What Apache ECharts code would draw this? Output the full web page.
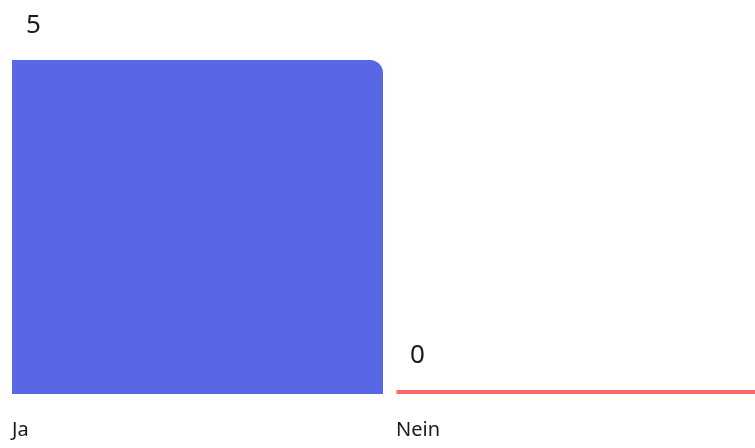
<!DOCTYPE html>
<html>
<head>
<meta charset="utf-8">
<script src="https://cdn.jsdelivr.net/npm/echarts@6/dist/echarts.min.js"></script>
<style>html,body{margin:0;padding:0;background:#fff;overflow:hidden;width:755px;height:448px}#c{width:780px;height:448px}</style>
</head>
<body>
<div id="c"></div>
<script>
const categories = ['Ja', 'Nein'];
const values = [5, 0];
const barColors = ['#5767E6', '#FF6B6B'];

const chart = echarts.init(document.getElementById('c'));
chart.setOption({
  animation: false,
  grid: { left: 5.5, width: 768, top: 60, bottom: 54 },
  xAxis: {
    type: 'category',
    data: categories,
    axisLine: { show: false },
    axisTick: { show: false },
    axisLabel: {
      margin: 26,
      align: 'center',
      formatter: v => '{a|' + v + '}',
      rich: { a: { width: 371, align: 'left', fontSize: 20, color: '#1a1a1a', fontFamily: 'Noto Sans' } }
    }
  },
  yAxis: { type: 'value', min: 0, max: 5, show: false, splitLine: { show: false } },
  series: [{
    type: 'bar',
    barWidth: 371,
    barMinHeight: 4,
    data: values.map((v, i) => ({
      value: v,
      itemStyle: { color: barColors[i], borderRadius: v > 0 ? [0, 13, 0, 0] : [2, 0, 0, 2] }
    })),
    label: {
      show: true,
      position: [14, -34],
      align: 'left',
      verticalAlign: 'middle',
      fontSize: 26,
      color: '#1a1a1a',
      fontFamily: 'Noto Sans'
    }
  }]
});
</script>
</body>
</html>
